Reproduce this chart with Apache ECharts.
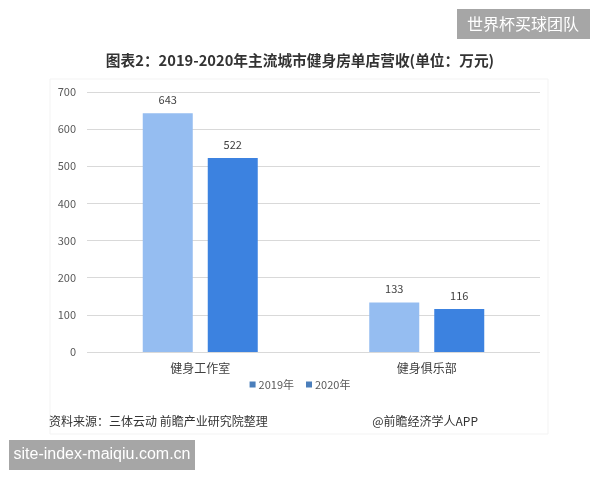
<!DOCTYPE html>
<html><head><meta charset="utf-8">
<script src="https://cdn.jsdelivr.net/npm/echarts@6/dist/echarts.min.js"></script>
<style>html,body{margin:0;padding:0;background:#fff}#c{width:600px;height:480px}</style>
</head><body><div id="c"></div>
<script>
var categories = ['健身工作室', '健身俱乐部'];
var series2019 = [643, 133];
var series2020 = [522, 116];
var seriesNames = ['2019年', '2020年'];
var yTicks = [0, 100, 200, 300, 400, 500, 600, 700];

var chart = echarts.init(document.getElementById('c'));
var font = '"Microsoft YaHei","Noto Sans CJK SC",sans-serif';
chart.setOption({
  backgroundColor: '#fff',
  textStyle: {fontFamily: font},
  title: {
    text: '图表2：2019-2020年主流城市健身房单店营收(单位：万元)',
    left: 'center', top: 48,
    textStyle: {fontSize: 14.7, fontWeight: 'bold', color: '#333', fontFamily: font}
  },
  graphic: [
    {type: 'rect', shape: {x: 50, y: 79, width: 498, height: 355}, style: {fill: 'none', stroke: '#f3f3f3', lineWidth: 1}, z: -1},
    {type: 'rect', shape: {x: 457, y: 9, width: 133, height: 30}, style: {fill: '#a6a6a6'}},
    {type: 'text', x: 523, y: 24, style: {text: '世界杯买球团队', fill: '#fff', font: '16px ' + font, textAlign: 'center', textVerticalAlign: 'middle'}},
    {type: 'rect', shape: {x: 9, y: 440, width: 186, height: 30}, style: {fill: '#a6a6a6'}},
    {type: 'text', x: 102, y: 455, style: {text: 'site-index-maiqiu.com.cn', fill: '#fff', font: '16px "Liberation Sans",Arial,sans-serif', textAlign: 'center', textVerticalAlign: 'middle'}},
    {type: 'text', x: 49, y: 421, style: {text: '资料来源：三体云动 前瞻产业研究院整理', fill: '#333', font: '12px ' + font, textVerticalAlign: 'middle'}},
    {type: 'text', x: 478, y: 421, style: {text: '@前瞻经济学人APP', fill: '#333', font: '12px ' + font, textAlign: 'right', textVerticalAlign: 'middle'}}
  ],
  legend: {
    data: [
      {name: seriesNames[0], itemStyle: {color: '#4a7ebb'}},
      {name: seriesNames[1], itemStyle: {color: '#4a7ebb'}}
    ],
    bottom: 85, left: 'center',
    itemWidth: 6, itemHeight: 6, itemGap: 12,
    icon: 'rect',
    textStyle: {fontSize: 11, color: '#595959', padding: [0, 0, 0, -2]}
  },
  grid: {left: 87, right: 60, top: 92, bottom: 128},
  xAxis: {
    type: 'category', data: categories,
    axisLine: {show: false}, axisTick: {show: false},
    axisLabel: {fontSize: 12, color: '#404040', margin: 10}
  },
  yAxis: {
    type: 'value', min: yTicks[0], max: yTicks[yTicks.length - 1], interval: 100,
    axisLine: {show: false}, axisTick: {show: false},
    axisLabel: {fontSize: 11, color: '#595959', margin: 11},
    splitLine: {lineStyle: {color: '#d9d9d9'}}
  },
  series: [
    {name: seriesNames[0], type: 'bar', data: series2019, barWidth: 50, barGap: '30%',
     itemStyle: {color: '#95bdf1'},
     label: {show: true, position: 'top', fontSize: 11, color: '#404040', distance: 8}},
    {name: seriesNames[1], type: 'bar', data: series2020, barWidth: 50,
     itemStyle: {color: '#3c82e0'},
     label: {show: true, position: 'top', fontSize: 11, color: '#404040', distance: 8}}
  ]
});
</script></body></html>
